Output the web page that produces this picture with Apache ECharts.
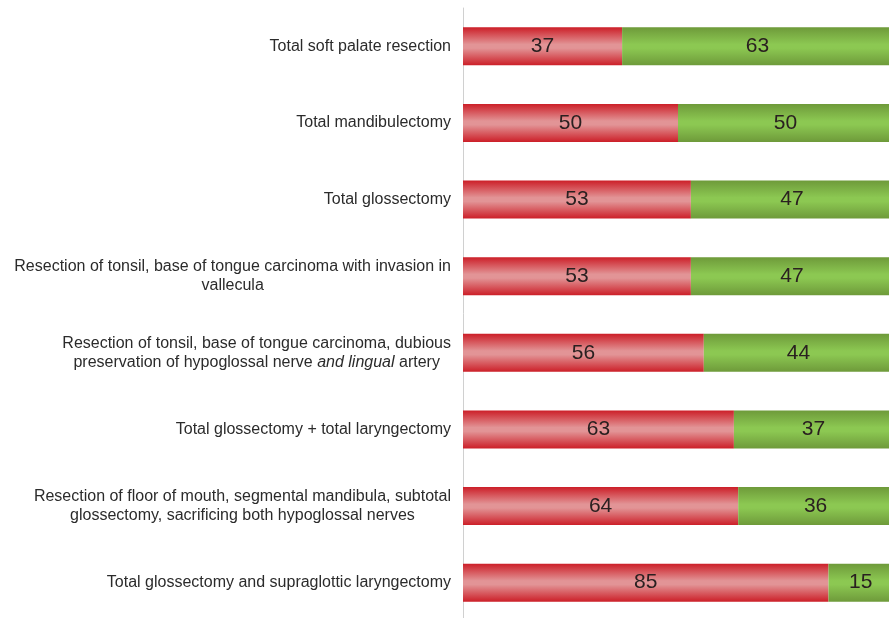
<!DOCTYPE html>
<html>
<head>
<meta charset="utf-8">
<script src="https://cdn.jsdelivr.net/npm/echarts@6/dist/echarts.min.js"></script>
<style>
  html, body { margin: 0; padding: 0; background: #ffffff; }
  #chart { width: 889px; height: 618px; }
</style>
</head>
<body>
<div id="chart"></div>
<script>
// Procedures, top to bottom
const categories = [
  'Total soft palate resection',
  'Total mandibulectomy',
  'Total glossectomy',
  'Resection of tonsil, base of tongue carcinoma with invasion in\nvallecula',
  'Resection of tonsil, base of tongue carcinoma, dubious\npreservation of hypoglossal nerve and lingual artery',
  'Total glossectomy + total laryngectomy',
  'Resection of floor of mouth, segmental mandibula, subtotal\nglossectomy, sacrificing both hypoglossal nerves',
  'Total glossectomy and supraglottic laryngectomy'
];
// Percentage shares per procedure
const redValues = [37, 50, 53, 53, 56, 63, 64, 85];
const greenValues = [63, 50, 47, 47, 44, 37, 36, 15];
// Phrase set in italics inside the labels
const italicPhrase = 'and lingual';

const chart = echarts.init(document.getElementById('chart'));

function band(edge, mid) {
  return new echarts.graphic.LinearGradient(0, 0, 0, 1, [
    { offset: 0, color: edge },
    { offset: 0.45, color: mid },
    { offset: 0.55, color: mid },
    { offset: 1, color: edge }
  ]);
}

// Each line of a multi-line label is centred within the right-aligned block
function formatCategory(text) {
  return text.split('\n').map(function (line) {
    const idx = line.indexOf(italicPhrase);
    if (idx < 0) return '{c|' + line + '}';
    const before = line.slice(0, idx);
    const after = line.slice(idx + italicPhrase.length);
    return (before ? '{c|' + before + '}' : '') +
      '{ci|' + italicPhrase + '}' +
      (after ? '{c|' + after + '}' : '');
  }).join('\n');
}

const font = 'Liberation Sans, Arial, sans-serif';

const labelStyle = {
  show: true,
  position: 'inside',
  fontFamily: font,
  fontSize: 21,
  color: '#2a2020'
};

chart.setOption({
  animation: false,
  backgroundColor: '#ffffff',
  grid: {
    left: 463, width: 430, top: 8, bottom: -3,
    containLabel: false,
    outerBoundsMode: 'none'
  },
  xAxis: {
    type: 'value', min: 0, max: 100, show: false
  },
  yAxis: {
    type: 'category',
    inverse: true,
    data: categories,
    axisLine: { show: true, lineStyle: { color: '#d0d0d0', width: 1 } },
    axisTick: { show: false },
    axisLabel: {
      margin: 12,
      align: 'right',
      fontFamily: font,
      fontSize: 16,
      lineHeight: 19,
      color: '#2b2b2b',
      formatter: formatCategory,
      rich: {
        c: { align: 'center', fontFamily: font, fontSize: 16, lineHeight: 19, color: '#2b2b2b' },
        ci: { align: 'center', fontStyle: 'italic', fontFamily: font, fontSize: 16, lineHeight: 19, color: '#2b2b2b' }
      }
    }
  },
  series: [
    {
      type: 'bar', stack: 'total', barWidth: 38,
      data: redValues,
      itemStyle: { color: band('#cc1f28', '#e29496') },
      label: labelStyle
    },
    {
      type: 'bar', stack: 'total', barWidth: 38,
      data: greenValues,
      itemStyle: { color: band('#6e9a3a', '#8cc852') },
      label: labelStyle
    }
  ]
});
</script>
</body>
</html>
